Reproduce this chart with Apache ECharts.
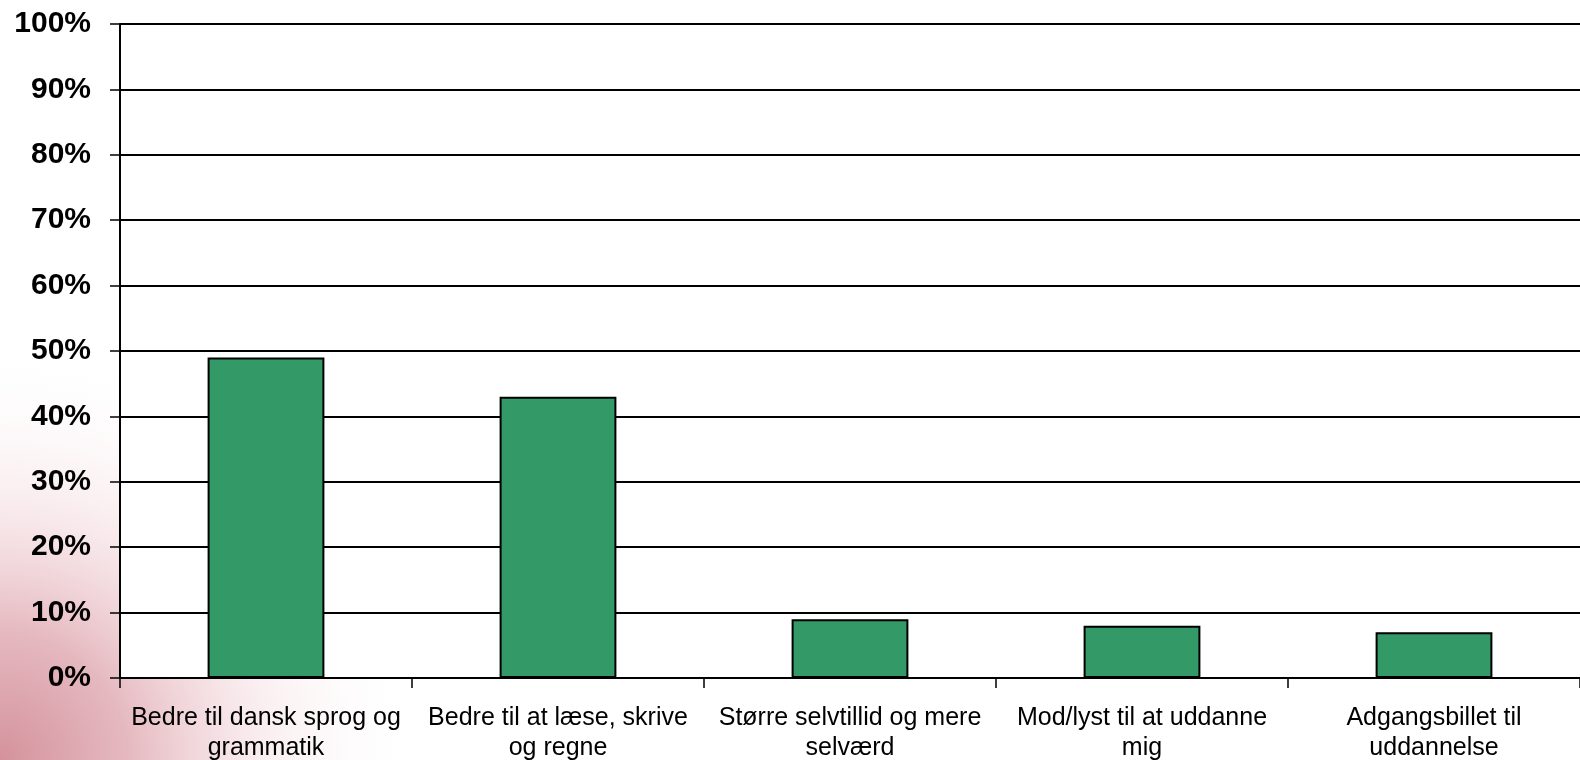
<!DOCTYPE html>
<html>
<head>
<meta charset="utf-8">
<script src="https://cdn.jsdelivr.net/npm/echarts@6/dist/echarts.min.js"></script>
<style>
html,body{margin:0;padding:0;background:#fff;}
#chart{width:1580px;height:760px;}
</style>
</head>
<body>
<div id="chart"></div>
<script>
var categories = [
  'Bedre til dansk sprog og\ngrammatik',
  'Bedre til at læse, skrive\nog regne',
  'Større selvtillid og mere\nselværd',
  'Mod/lyst til at uddanne\nmig',
  'Adgangsbillet til\nuddannelse'
];
var values = [49, 43, 9, 8, 7];
var yTicks = { min: 0, max: 100, interval: 10 };

var chart = echarts.init(document.getElementById('chart'), null, { renderer: 'canvas' });
chart.setOption({
  animation: false,
  backgroundColor: '#ffffff',
  graphic: [{
    type: 'rect',
    left: 0, top: 160, z: -10, silent: true,
    shape: { width: 600, height: 600 },
    style: {
      fill: {
        type: 'radial', x: 0, y: 1, r: 0.7,
        colorStops: [
          { offset: 0, color: 'rgba(212,146,156,1)' },
          { offset: 0.3, color: 'rgba(226,176,184,0.9)' },
          { offset: 0.6, color: 'rgba(242,214,218,0.5)' },
          { offset: 1, color: 'rgba(255,255,255,0)' }
        ]
      }
    }
  }],
  grid: {
    left: 120, right: 0, top: 24, bottom: 82,
    outerBoundsMode: 'none', containLabel: false,
    show: true, backgroundColor: '#ffffff', borderWidth: 0
  },
  xAxis: {
    type: 'category',
    data: categories,
    axisLine: { lineStyle: { color: '#000', width: 2 } },
    axisTick: { show: true, length: 10, interval: 0, lineStyle: { color: '#000', width: 1.5 } },
    axisLabel: {
      interval: 0, margin: 25, color: '#000',
      fontFamily: 'Liberation Sans, Arial, sans-serif', fontSize: 25, lineHeight: 30
    }
  },
  yAxis: {
    type: 'value',
    min: yTicks.min, max: yTicks.max, interval: yTicks.interval,
    axisLine: { show: true, lineStyle: { color: '#000', width: 2 } },
    axisTick: { show: true, length: 10, lineStyle: { color: '#000', width: 1.5 } },
    splitLine: { show: true, lineStyle: { color: '#000', width: 2 } },
    axisLabel: {
      margin: 29, color: '#000', fontWeight: 'bold',
      fontFamily: 'Liberation Sans, Arial, sans-serif', fontSize: 30,
      formatter: '{value}%'
    }
  },
  series: [{
    type: 'bar',
    data: values,
    barWidth: '40%',
    itemStyle: { color: '#339966', borderColor: '#000', borderWidth: 2 },
    z: 3
  }]
});
</script>
</body>
</html>
